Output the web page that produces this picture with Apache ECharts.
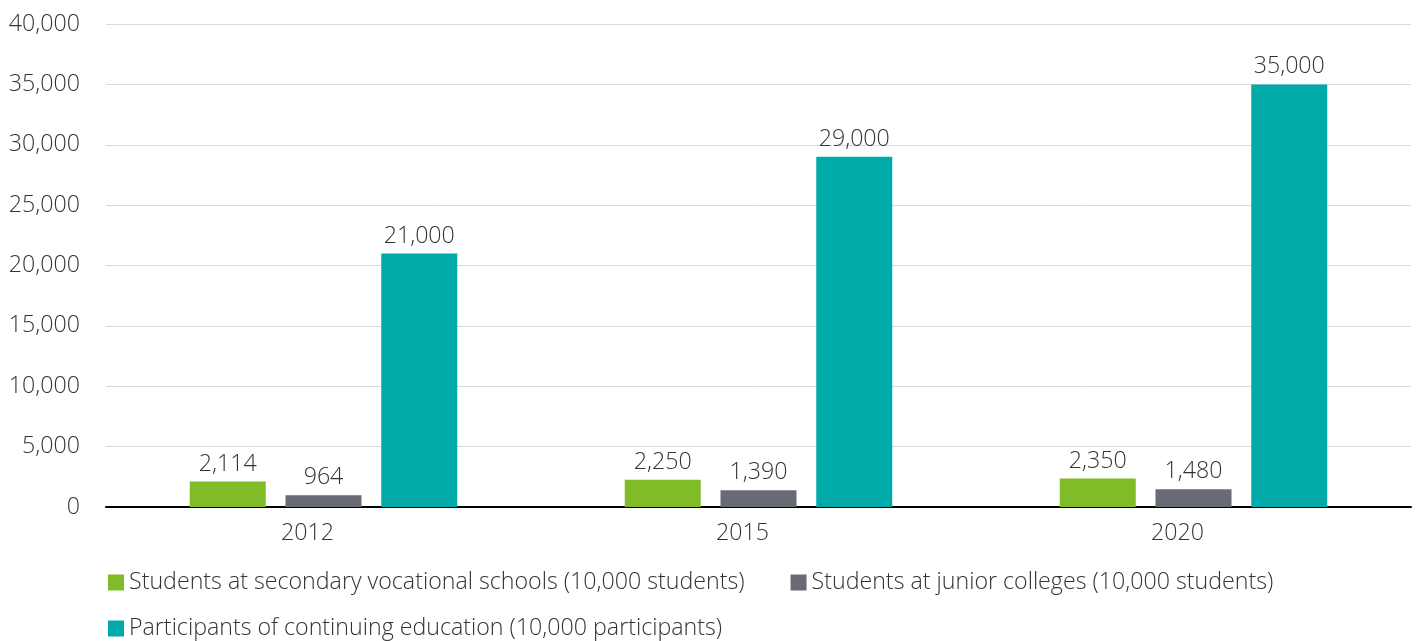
<!DOCTYPE html>
<html>
<head>
<meta charset="utf-8">
<script src="https://cdn.jsdelivr.net/npm/echarts@6/dist/echarts.min.js"></script>
<style>
  html, body { margin: 0; padding: 0; background: #fff; }
  #main { width: 1417px; height: 641px; }
</style>
</head>
<body>
<div id="main"></div>
<script>
// data
var years = ['2012', '2015', '2020'];
var secondaryVocational = [2114, 2250, 2350];
var juniorColleges = [964, 1390, 1480];
var continuingEducation = [21000, 29000, 35000];
var seriesNames = [
    'Students at secondary vocational schools (10,000 students)',
    'Students at junior colleges (10,000 students)',
    'Participants of continuing education (10,000 participants)'
];

var font = '"Open Sans", sans-serif';
var textColor = '#333';
var fontSize = 23.2;
var fontWeight = 300;

var myChart = echarts.init(document.getElementById('main'));

function fmt(v) {
    return v.toLocaleString('en-US');
}

function barSeries(name, data, color) {
    return {
        name: name,
        type: 'bar',
        data: data,
        barWidth: 76,
        barGap: '26%',
        itemStyle: { color: color },
        label: {
            show: true,
            position: 'top',
            distance: 6,
            color: textColor,
            fontFamily: font,
            fontSize: fontSize,
            fontWeight: fontWeight,
            formatter: function (p) { return fmt(p.value); }
        }
    };
}

var legendCommon = {
    icon: 'rect',
    itemWidth: 16,
    itemHeight: 16,
    itemGap: 46,
    textStyle: { color: textColor, fontFamily: font, fontSize: fontSize, fontWeight: fontWeight }
};

myChart.setOption({
    animation: false,
    grid: { left: 106, right: 6, top: 24, bottom: 134 },
    legend: [
        Object.assign({ left: 103, top: 566, data: [seriesNames[0], seriesNames[1]] }, legendCommon),
        Object.assign({ left: 103, top: 612, data: [seriesNames[2]] }, legendCommon)
    ],
    xAxis: {
        type: 'category',
        data: years,
        axisLine: { lineStyle: { color: '#000', width: 2 } },
        axisTick: { length: 6, lineStyle: { color: '#000', width: 2 } },
        axisLabel: {
            color: textColor,
            fontFamily: font,
            fontSize: fontSize,
            fontWeight: fontWeight,
            margin: 15,
            padding: [0, 32, 0, 0]
        }
    },
    yAxis: {
        type: 'value',
        min: 0,
        max: 40000,
        interval: 5000,
        axisLine: { show: false },
        axisTick: { show: false },
        splitLine: { lineStyle: { color: '#d9d9d9', width: 1 } },
        axisLabel: {
            color: textColor,
            fontFamily: font,
            fontSize: fontSize,
            fontWeight: fontWeight,
            margin: 26,
            formatter: function (v) { return fmt(v); }
        }
    },
    series: [
        barSeries(seriesNames[0], secondaryVocational, '#7fbc27'),
        barSeries(seriesNames[1], juniorColleges, '#686b73'),
        barSeries(seriesNames[2], continuingEducation, '#00aaa8')
    ]
});
</script>
</body>
</html>
